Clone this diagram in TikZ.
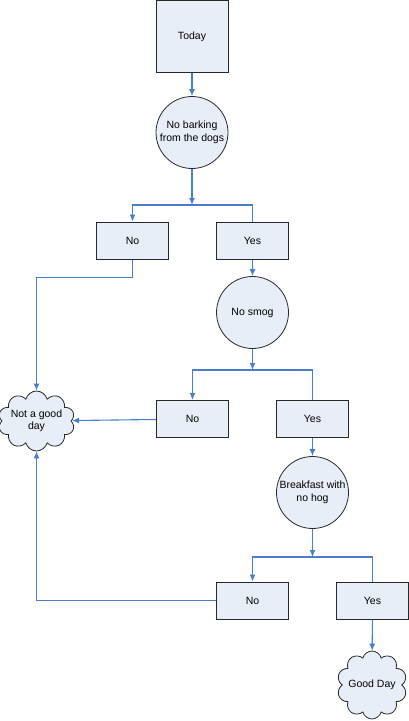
\documentclass[tikz,border=0pt]{standalone}
\usepackage{fontspec}
\setmainfont{Liberation Sans}
\usetikzlibrary{arrows.meta,shapes.symbols}
\definecolor{FlowBlue}{RGB}{74,126,204}
\definecolor{BoxFill}{RGB}{232,238,248}
\definecolor{EdgeGray}{RGB}{40,40,40}

\begin{document}
\begin{tikzpicture}[x=1pt,y=-1pt,>={Latex[length=7pt,width=6pt]},
  every node/.style={font=\fontsize{10.5}{12.5}\selectfont,align=center},
  box/.style={rectangle,draw=EdgeGray,fill=BoxFill,line width=1pt,minimum width=72pt,minimum height=37pt,inner sep=0pt},
  test/.style={circle,draw=EdgeGray,fill=BoxFill,line width=0.8pt,minimum size=72pt,inner sep=0pt},
  endcloud/.style={cloud,cloud puffs=10,cloud ignores aspect,draw=EdgeGray,fill=BoxFill,line width=0.8pt,minimum width=70pt,minimum height=60pt,inner sep=0pt},
  link/.style={FlowBlue,line width=1.1pt}]
\useasboundingbox (0,0) rectangle (409,721);
\node[box,minimum height=72pt] (today) at (192,36.5){Today};
\node[test] (q1) at (192,132.5){No barking\\from the dogs};
\coordinate (j1) at (192,205);
\node[box] (no1) at (132.5,240.5){No};
\node[box] (yes1) at (252.5,240.5){Yes};
\node[test] (q2) at (252.5,312.5){No smog};
\coordinate (j2) at (252.5,370);
\node[box] (no2) at (192.5,419){No};
\node[box] (yes2) at (312.5,419){Yes};
\node[test] (q3) at (312.5,492.5){Breakfast with\\no hog};
\coordinate (j3) at (312.5,557);
\node[box] (no3) at (252.5,600.5){No};
\node[box] (yes3) at (372.5,600.5){Yes};
\node[endcloud] (bad) at (36.5,421){Not a good\\day};
\node[endcloud,minimum height=68pt] (good) at (372,685){Good Day};
% first test
\draw[link,->] (today)--(q1);
\draw[link,->] (q1)--(j1);
\draw[link,->] (j1)-|(no1);
\draw[link] (j1)-|(yes1);
\draw[link,->] (no1.south)--++(0,18)-|(bad);
% second test
\draw[link,->] (yes1)--(q2);
\draw[link,->] (q2)--(j2);
\draw[link,->] (j2)-|(no2);
\draw[link] (j2)-|(yes2);
\draw[link,->] (no2)--(bad);
% third test
\draw[link,->] (yes2)--(q3);
\draw[link,->] (q3)--(j3);
\draw[link,->] (j3)-|(no3);
\draw[link] (j3)-|(yes3);
\draw[link,->] (no3)-|(bad);
\draw[link,->] (yes3)--(good);
\end{tikzpicture}
\end{document}
